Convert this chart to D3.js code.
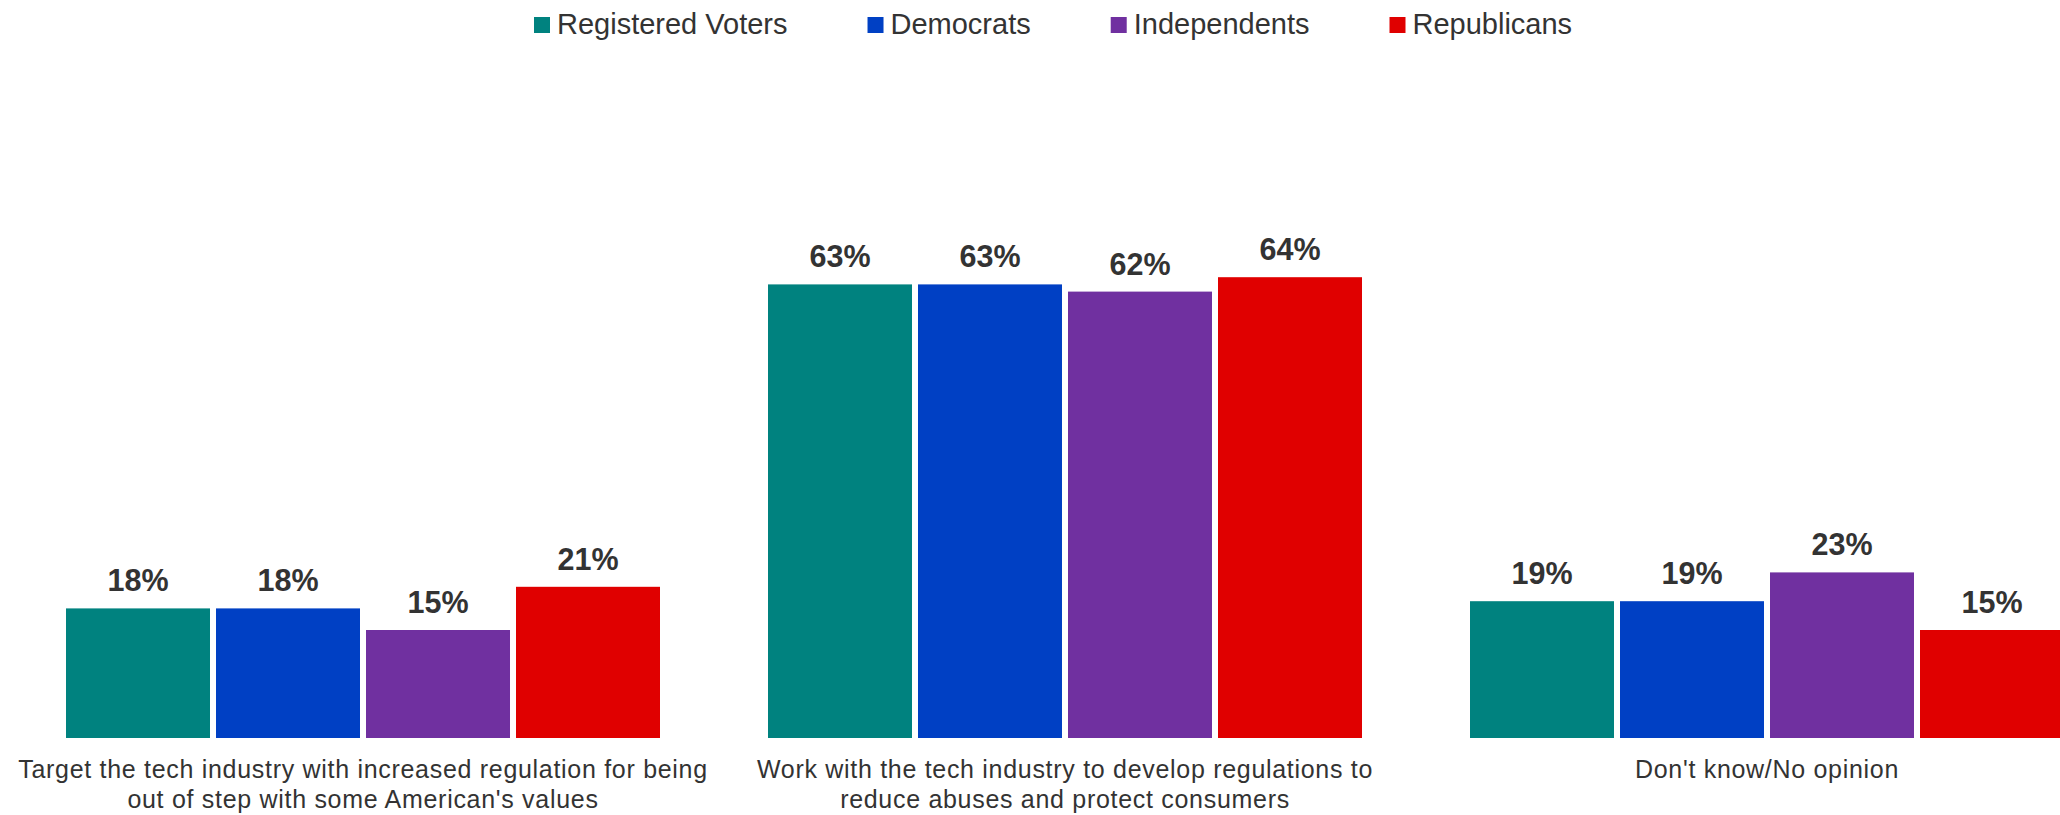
<!DOCTYPE html>
<html>
<head>
<meta charset="utf-8">
<script src="https://cdn.jsdelivr.net/npm/d3@7"></script>
<style>
  html, body { margin: 0; padding: 0; background: #fff; }
  svg { display: block; }
  text { font-family: "Liberation Sans", Arial, sans-serif; }
</style>
</head>
<body>
<script>
const categories = [
  ["Target the tech industry with increased regulation for being", "out of step with some American's values"],
  ["Work with the tech industry to develop regulations to", "reduce abuses and protect consumers"],
  ["Don't know/No opinion"]
];
const seriesNames = ["Registered Voters", "Democrats", "Independents", "Republicans"];
const seriesColors = ["#00827F", "#0040C4", "#7030A0", "#E00000"];
const registeredVoters = [18, 63, 19];
const democrats = [18, 63, 19];
const independents = [15, 62, 23];
const republicans = [21, 64, 15];
const seriesValues = [registeredVoters, democrats, independents, republicans];

const W = 2060, H = 815;
const svg = d3.select("body").append("svg").attr("width", W).attr("height", H);

const x0 = d3.scaleBand().domain(d3.range(categories.length))
  .range([12, 2118]).paddingInner(108 / 702).paddingOuter(54 / 702);
const x1 = d3.scaleBand().domain(d3.range(seriesNames.length))
  .range([0, x0.bandwidth()]).paddingInner(0.04).paddingOuter(0);
const y = d3.scaleLinear().domain([0, 100]).range([738, 18]);

const groups = svg.append("g").selectAll("g")
  .data(categories.map((c, i) => ({ i, c })))
  .join("g")
  .attr("transform", d => `translate(${x0(d.i)},0)`);

groups.selectAll("rect")
  .data(d => seriesNames.map((s, j) => ({ j, v: seriesValues[j][d.i] })))
  .join("rect")
  .attr("x", d => x1(d.j))
  .attr("width", x1.bandwidth())
  .attr("y", d => y(d.v))
  .attr("height", d => y(0) - y(d.v))
  .attr("fill", d => seriesColors[d.j]);

groups.selectAll("text.val")
  .data(d => seriesNames.map((s, j) => ({ j, v: seriesValues[j][d.i] })))
  .join("text")
  .attr("class", "val")
  .attr("x", d => x1(d.j) + x1.bandwidth() / 2)
  .attr("y", d => y(d.v) - 17)
  .attr("text-anchor", "middle")
  .attr("font-size", 30.5)
  .attr("font-weight", "bold")
  .attr("fill", "#333")
  .text(d => d.v + "%");

groups.append("text")
  .attr("class", "cat")
  .attr("x", x0.bandwidth() / 2)
  .attr("y", 778)
  .attr("text-anchor", "middle")
  .attr("font-size", 25)
  .attr("letter-spacing", 0.7)
  .attr("fill", "#333")
  .selectAll("tspan")
  .data(d => d.c)
  .join("tspan")
  .attr("x", x0.bandwidth() / 2)
  .attr("dy", (d, k) => k === 0 ? 0 : 30)
  .text(d => d);

// legend
const legend = svg.append("g");
let lx = 534;
seriesNames.forEach((name, j) => {
  legend.append("rect")
    .attr("x", lx).attr("y", 17).attr("width", 16).attr("height", 16)
    .attr("fill", seriesColors[j]);
  const t = legend.append("text")
    .attr("x", lx + 23).attr("y", 34)
    .attr("font-size", 29)
    .attr("fill", "#333")
    .text(name);
  lx += 23 + t.node().getComputedTextLength() + 80;
});
</script>
</body>
</html>
